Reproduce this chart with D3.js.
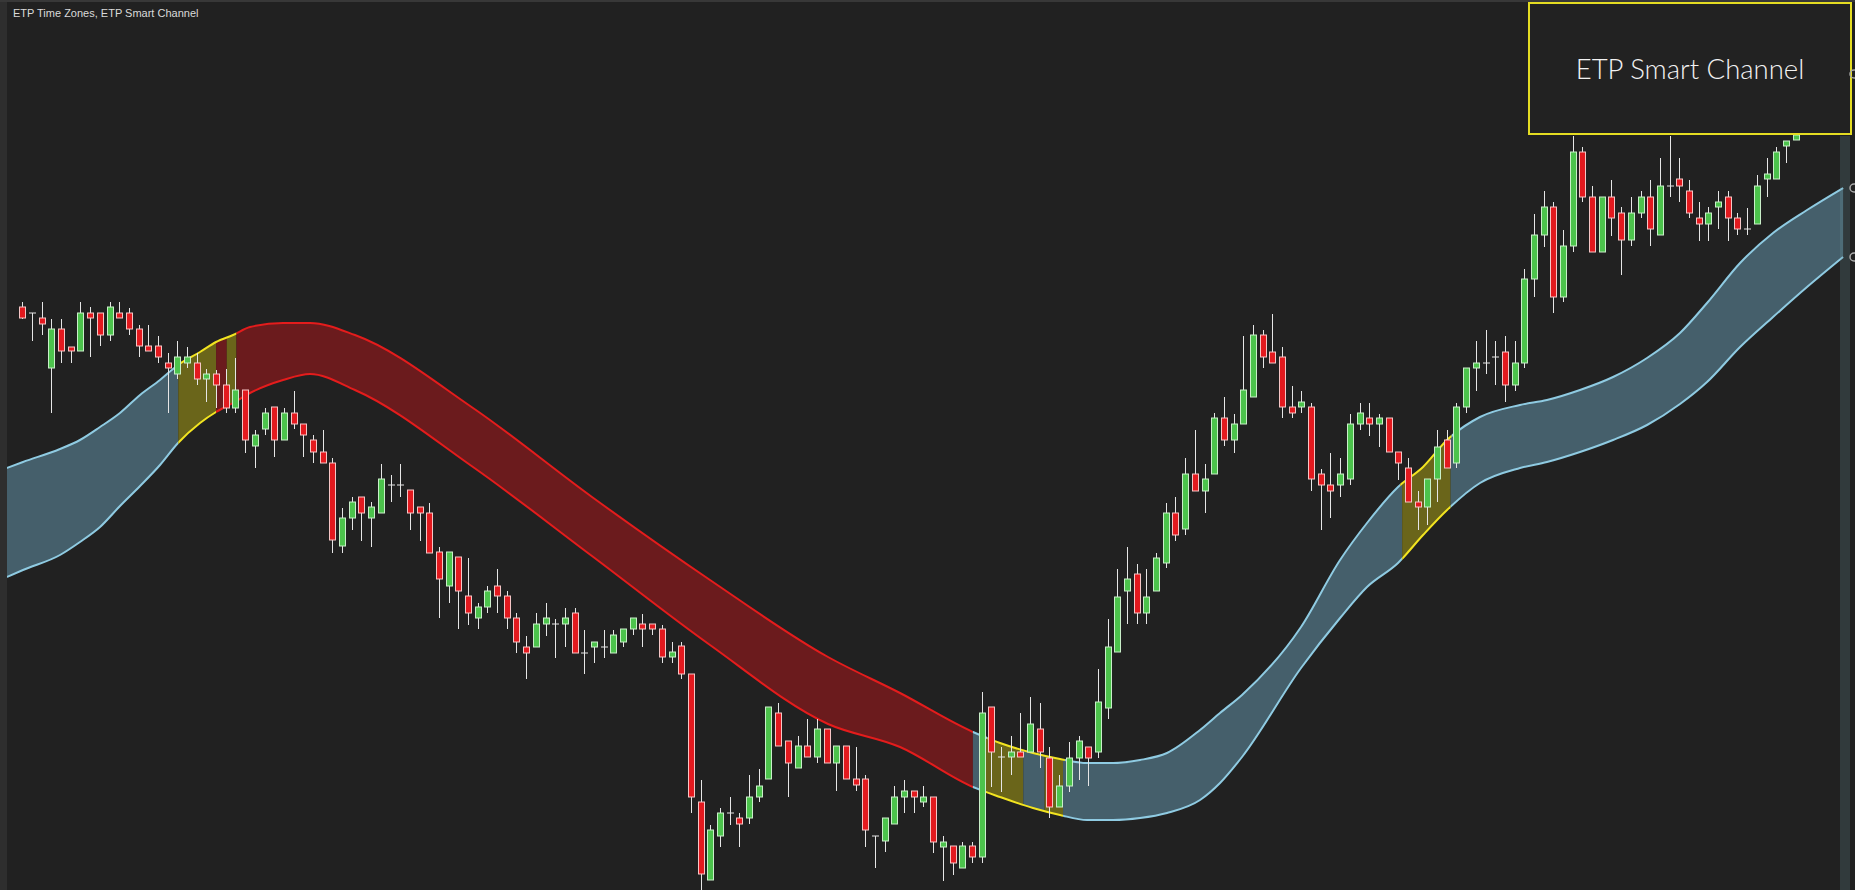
<!DOCTYPE html>
<html><head><meta charset="utf-8">
<script src="https://cdn.jsdelivr.net/npm/d3@7"></script>
<style>html,body{margin:0;padding:0;background:#212121;overflow:hidden}svg{display:block}</style>
</head><body><svg id="c" width="1855" height="890"></svg>
<script>
// ---- Candle data (index = bar number) ----
const opens=[593,587,582,532,571,553,549,587,587,565,587,587,571,554,554,537,526,537,537,521,526,515,492,510,454,471,493,460,487,476,460,448,437,354,382,403,382,387,415,415,410,393,387,348,314,343,304,282,293,314,304,282,253,253,276,276,276,287,247,253,253,247,258,271,276,276,271,243,254,226,98,20,64,87,82,82,103,121,187,159,132,154,143,171,137,154,121,121,64,59,76,103,109,98,103,53,54,32,54,43,193,143,143,148,148,171,142,93,114,142,153,148,192,248,309,326,287,309,337,387,371,426,409,426,482,460,476,503,565,548,543,493,493,493,426,415,415,421,476,482,476,482,448,432,398,393,421,460,437,493,532,537,543,548,515,537,621,665,693,603,654,748,703,648,703,687,660,687,703,665,714,721,709,682,676,693,703,682,671,676,721,721,754,760];
const highs=[598,587,598,581,581,553,598,593,587,598,598,592,575,575,564,547,559,553,547,531,530,531,542,510,470,492,493,492,509,476,465,470,442,392,403,403,398,436,425,436,410,393,397,353,348,343,342,297,314,331,309,287,264,287,297,281,292,292,270,258,270,270,271,282,286,276,275,258,258,226,120,75,92,103,87,125,131,193,197,159,164,181,181,171,154,154,153,125,64,82,114,120,109,114,103,64,54,58,58,208,193,153,164,187,203,197,153,125,158,164,153,231,281,331,353,336,331,347,397,403,442,470,436,487,503,486,564,575,570,586,553,514,509,497,431,447,442,486,497,497,486,482,448,442,409,421,470,470,497,532,559,570,559,564,559,631,686,709,698,670,764,753,714,703,720,693,703,709,720,742,764,742,720,698,693,709,709,687,692,725,742,753,759,765];
const lows=[581,559,565,487,537,537,549,543,554,559,582,565,543,549,537,487,521,532,515,498,492,487,487,447,432,465,443,460,471,443,437,437,347,347,370,359,353,387,398,403,370,359,347,282,297,271,275,271,287,287,271,247,221,253,264,242,253,247,226,237,242,247,253,265,253,265,237,237,221,87,10,20,53,75,53,76,98,121,154,103,132,143,137,137,109,121,109,53,32,48,76,87,87,93,47,19,25,32,37,37,113,108,125,143,148,132,82,93,108,120,114,142,181,248,276,276,276,309,332,359,365,409,387,426,454,447,476,503,532,537,482,482,487,409,370,382,403,415,470,464,453,448,420,398,370,375,398,432,432,487,509,526,515,498,509,532,603,653,587,598,648,698,648,648,664,625,654,682,654,665,703,698,682,659,659,671,659,665,665,676,703,721,737,760];
const closes=[582,587,576,571,549,549,587,582,565,593,582,571,554,549,543,532,543,543,521,526,515,492,510,460,465,487,460,487,476,465,448,437,360,382,398,387,393,421,415,415,387,387,347,321,348,309,287,293,309,304,282,258,247,276,282,276,282,247,247,258,253,265,271,282,271,271,243,248,226,103,26,70,87,87,76,103,114,193,154,137,154,143,171,137,154,121,115,70,64,82,103,109,103,103,58,58,37,54,43,187,148,143,148,143,176,148,93,114,142,159,142,198,253,303,321,287,303,342,387,365,426,409,421,482,460,476,510,565,543,537,493,487,498,421,415,409,426,476,487,476,482,448,437,398,393,421,453,432,493,532,537,537,543,515,537,621,665,693,603,654,748,703,648,703,682,660,687,703,671,714,714,714,687,676,687,698,682,671,671,714,726,748,759,765];

// ---- ETP Smart Channel (bar position, upper / lower band) ----
const bandT=[-1.58,0.07,3.89,5.95,8.02,10.08,12.15,14.21,16.07,18.34,19.99,21.75,23.5,26.91,29.69,34.33,46.51,58.79,70.97,83.15,90.58,98.11,100.9,104.3,107.09,109.88,112.56,115.35,118.13,121.54,123.6,125.87,131.96,135.99,138.77,141.97,144.55,147.03,150.43,154.56,157.34,160.75,164.16,167.67,171.07,173.86,177.27,180.67,184.18,187.9];
const bandUpper=[432,438,451,460,473,487,505,520,535,548,558,565,573,577,577,565,492,403,320,243,207,168,157,147,141,137,137,140,147,170,187,205,273,340,377,413,433,460,483,495,500,510,523,542,567,597,637,667,690,712];
const bandLower=[323,330,345,358,373,394,414,435,457,477,488,497,507,520,526,510,433,344,255,176,153,113,103,92,85,80,80,82,87,100,117,143,232,282,313,337,365,390,417,432,438,448,460,475,496,518,553,583,613,643];

// ---- Trend / time-zone segments (bar positions) ----
const fillBreaks=[-2,16.1,20.0,21.1,22.1,98.1,99.1,103.3,105.5,107.4,142.4,147.4,190];
const fillStates=['up','zone','down','zone','down','up','zone','up','zone','up','zone','up'];
const upperBreaks=[-2,16.1,22.1,98.1,99.6,107.6,142.2,147.5,190];
const upperStates=['up','zone','down','up','zone','up','zone','up'];
const lowerBreaks=[-2,16.1,20.0,98.1,99.1,107.4,142.4,147.4,190];
const lowerStates=['up','zone','down','up','zone','up','zone','up'];

const titleText="ETP Time Zones, ETP Smart Channel";
const boxText="ETP Smart Channel";

const W=1855,H=890;
const fillColor={up:'#455f6b',down:'#6b1b1d',zone:'#6a651a'};
const lineColor={up:'#8fcbe2',down:'#e41c1c',zone:'#f2e420'};

const svg=d3.select('#c');
svg.append('rect').attr('width',W).attr('height',H).attr('fill','#212121');

const x=d3.scaleLinear().domain([0,183]).range([22.3,1795.6]);
const y=d3.scaleLinear().domain([0,900]).range([900,0]);

const defs=svg.append('defs');
let clipId=0;
function clip(from,to){
  const id='cl'+(clipId++);
  defs.append('clipPath').attr('id',id).append('rect')
    .attr('x',x(from)).attr('y',0).attr('width',x(to)-x(from)).attr('height',H);
  return 'url(#'+id+')';
}
const band=bandT.map((t,i)=>({t,u:bandUpper[i],l:bandLower[i]}));
const curve=d3.curveMonotoneX;
const area=d3.area().x(d=>x(d.t)).y0(d=>y(d.l)).y1(d=>y(d.u)).curve(curve);
const upLine=d3.line().x(d=>x(d.t)).y(d=>y(d.u)).curve(curve);
const loLine=d3.line().x(d=>x(d.t)).y(d=>y(d.l)).curve(curve);

const gBand=svg.append('g');
fillStates.forEach((s,i)=>{
  gBand.append('path').datum(band).attr('d',area).attr('fill',fillColor[s])
    .attr('clip-path',clip(fillBreaks[i],fillBreaks[i+1]));
});
upperStates.forEach((s,i)=>{
  gBand.append('path').datum(band).attr('d',upLine).attr('fill','none')
    .attr('stroke',lineColor[s]).attr('stroke-width',2)
    .attr('clip-path',clip(upperBreaks[i],upperBreaks[i+1]));
});
lowerStates.forEach((s,i)=>{
  gBand.append('path').datum(band).attr('d',loLine).attr('fill','none')
    .attr('stroke',lineColor[s]).attr('stroke-width',2)
    .attr('clip-path',clip(lowerBreaks[i],lowerBreaks[i+1]));
});

// right-hand price strip
svg.append('rect').attr('x',1840).attr('y',136).attr('width',10).attr('height',H-136)
  .attr('fill','rgba(110,150,160,0.22)');

// candles
const candles=opens.map((o,i)=>({i,o,h:highs[i],l:lows[i],c:closes[i]}));
const gC=svg.append('g');
candles.forEach(d=>{
  const cx=Math.round(x(d.i))+0.5;
  gC.append('line').attr('x1',cx).attr('x2',cx).attr('y1',y(d.h)).attr('y2',y(d.l))
    .attr('stroke','#e6e6e6').attr('stroke-width',1);
  if(d.o===d.c){
    gC.append('line').attr('x1',cx-3.5).attr('x2',cx+3.5).attr('y1',y(d.o)).attr('y2',y(d.o))
      .attr('stroke','#e6e6e6').attr('stroke-width',1);
  } else {
    const up=d.c>d.o;
    const top=y(Math.max(d.o,d.c)), bot=y(Math.min(d.o,d.c));
    gC.append('rect').attr('x',cx-3).attr('y',top).attr('width',6).attr('height',Math.max(1,bot-top))
      .attr('fill',up?'#4cc34c':'#e3191e').attr('stroke',up?'#c9efc9':'#f6c6c6').attr('stroke-width',1);
  }
});

// frame
svg.append('rect').attr('x',0).attr('y',0).attr('width',7).attr('height',H).attr('fill','#2e2e2e');
svg.append('rect').attr('x',0).attr('y',0).attr('width',W).attr('height',2).attr('fill','#383838');

// title
svg.append('text').attr('x',13).attr('y',17).text(titleText)
  .attr('font-family','Liberation Sans, Arial, sans-serif').attr('font-size',11).attr('fill','#dadada');

// label box
svg.append('rect').attr('x',1529).attr('y',3).attr('width',322).attr('height',131)
  .attr('fill','#222222').attr('stroke','#e4dc22').attr('stroke-width',2);
svg.append('text').attr('x',1690).attr('y',79).attr('text-anchor','middle').text(boxText)
  .attr('font-family','Lato, sans-serif').attr('font-weight',300).attr('font-size',27.5).attr('fill','#f2f2f2');

// end markers
[74,188,257].forEach(cy=>{
  svg.append('circle').attr('cx',1854).attr('cy',cy).attr('r',4).attr('fill','none')
    .attr('stroke','#aaaaaa').attr('stroke-width',1.5);
});
</script>
</body></html>
